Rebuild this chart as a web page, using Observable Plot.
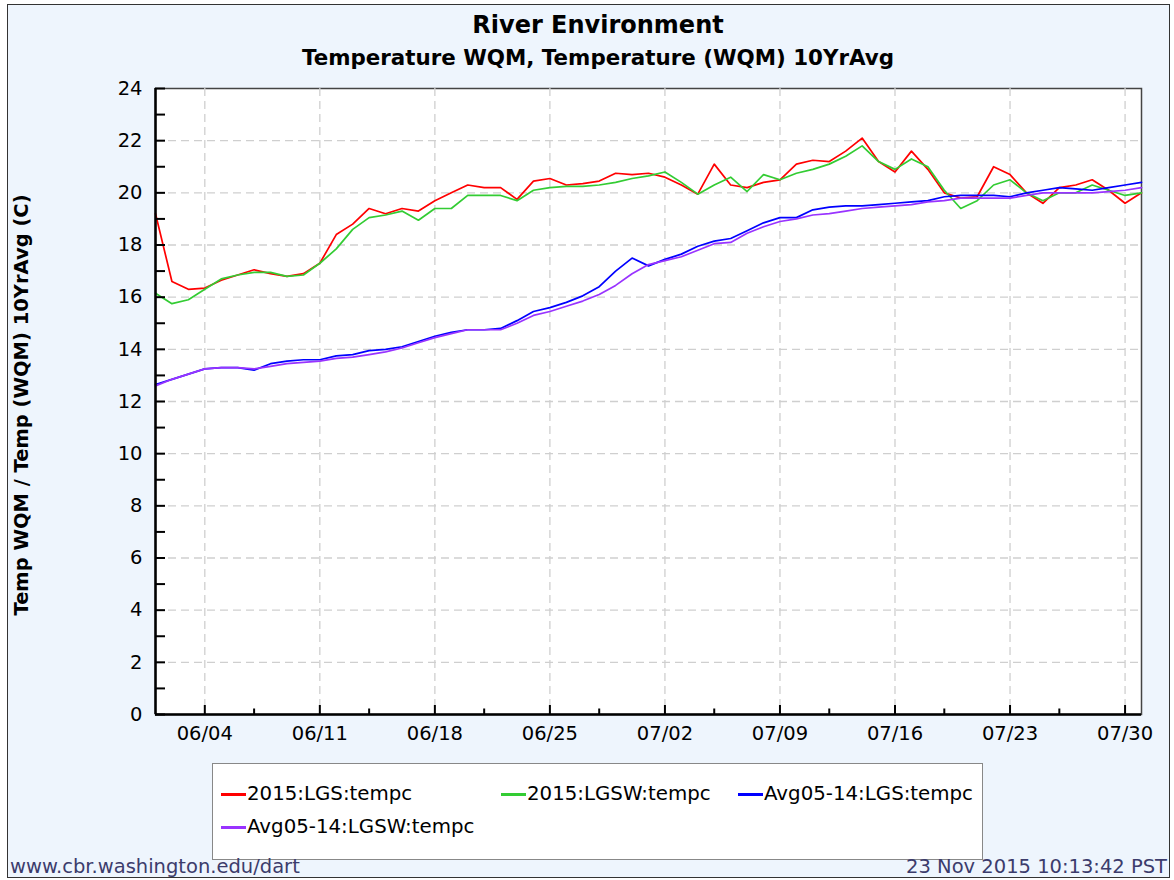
<!DOCTYPE html>
<html><head><meta charset="utf-8">
<script src="https://cdn.jsdelivr.net/npm/d3@7"></script>
<script src="https://cdn.jsdelivr.net/npm/@observablehq/plot@0.6"></script>
<style>
html,body{margin:0;padding:0;}
body{width:1174px;height:880px;overflow:hidden;background:#fff;font-family:"DejaVu Sans",sans-serif;position:relative;}
#page{position:absolute;left:7px;top:4px;width:1163px;height:874px;background:#EEF5FD;border:1px solid #333;box-sizing:border-box;}
.t{position:absolute;left:11px;width:1174px;text-align:center;font-weight:bold;line-height:1;color:#000;white-space:nowrap;}
#chart{position:absolute;left:0;top:0;}
#ylab{position:absolute;left:22px;top:405px;transform:translate(-50%,-50%) rotate(-90deg);font-weight:bold;font-size:19.5px;line-height:1;white-space:nowrap;}
#legend{position:absolute;left:212px;top:763px;width:771px;height:97px;background:#fff;border:1px solid #888;box-sizing:border-box;}
.li{position:absolute;font-size:19.8px;line-height:1;white-space:nowrap;}
.sw{position:absolute;width:25px;height:3px;}
.foot{position:absolute;font-size:19.5px;line-height:1;color:#3c3c6c;white-space:nowrap;}
</style>
</head><body>
<div id="page"></div>
<div id="chart"></div>
<div class="t" style="top:13px;font-size:24px;">River Environment</div>
<div class="t" style="top:47px;font-size:21.4px;">Temperature WQM, Temperature (WQM) 10YrAvg</div>
<div id="ylab">Temp WQM / Temp (WQM) 10YrAvg (C)</div>
<div id="legend"></div>
<div class="foot" style="left:10px;top:857px;">www.cbr.washington.edu/dart</div>
<div class="foot" style="right:7px;top:857px;">23 Nov 2015 10:13:42 PST</div>
<script>
const dates = ["2015-06-01","2015-06-02","2015-06-03","2015-06-04","2015-06-05","2015-06-06","2015-06-07","2015-06-08","2015-06-09","2015-06-10",
"2015-06-11","2015-06-12","2015-06-13","2015-06-14","2015-06-15","2015-06-16","2015-06-17","2015-06-18","2015-06-19","2015-06-20",
"2015-06-21","2015-06-22","2015-06-23","2015-06-24","2015-06-25","2015-06-26","2015-06-27","2015-06-28","2015-06-29","2015-06-30",
"2015-07-01","2015-07-02","2015-07-03","2015-07-04","2015-07-05","2015-07-06","2015-07-07","2015-07-08","2015-07-09","2015-07-10",
"2015-07-11","2015-07-12","2015-07-13","2015-07-14","2015-07-15","2015-07-16","2015-07-17","2015-07-18","2015-07-19","2015-07-20",
"2015-07-21","2015-07-22","2015-07-23","2015-07-24","2015-07-25","2015-07-26","2015-07-27","2015-07-28","2015-07-29","2015-07-30","2015-07-31"];

const lgs2015 = [19.2,16.6,16.3,16.35,16.65,16.85,17.05,16.9,16.8,16.9,17.3,18.4,18.8,19.4,19.2,19.4,19.3,19.7,20.0,20.3,20.2,20.2,19.75,20.45,20.55,20.3,20.35,20.45,20.75,20.7,20.75,20.6,20.3,19.95,21.1,20.3,20.2,20.4,20.5,21.1,21.25,21.2,21.6,22.1,21.2,20.8,21.6,20.9,20.0,19.8,19.85,21.0,20.7,20.0,19.6,20.2,20.3,20.5,20.1,19.6,20.0];
const lgsw2015 = [16.15,15.75,15.9,16.3,16.7,16.85,16.95,16.95,16.8,16.85,17.3,17.85,18.6,19.05,19.15,19.3,18.95,19.4,19.4,19.9,19.9,19.9,19.7,20.1,20.2,20.25,20.25,20.3,20.4,20.55,20.65,20.8,20.4,19.95,20.3,20.6,20.05,20.7,20.5,20.75,20.9,21.1,21.4,21.8,21.2,20.9,21.3,21.0,20.1,19.4,19.7,20.3,20.5,20.0,19.7,20.0,20.0,20.3,20.1,19.9,20.0];
const lgsAvg = [12.65,12.85,13.05,13.25,13.3,13.3,13.2,13.45,13.55,13.6,13.6,13.75,13.8,13.95,14.0,14.1,14.3,14.5,14.65,14.75,14.75,14.8,15.1,15.45,15.6,15.8,16.05,16.4,17.0,17.5,17.2,17.45,17.65,17.95,18.15,18.25,18.55,18.85,19.05,19.05,19.35,19.45,19.5,19.5,19.55,19.6,19.65,19.7,19.85,19.9,19.9,19.9,19.85,20.0,20.1,20.2,20.15,20.1,20.2,20.3,20.4];
const lgswAvg = [12.6,12.85,13.05,13.25,13.3,13.3,13.25,13.35,13.45,13.5,13.55,13.65,13.7,13.8,13.9,14.05,14.25,14.45,14.6,14.75,14.75,14.75,15.0,15.3,15.45,15.65,15.85,16.1,16.45,16.9,17.25,17.4,17.55,17.8,18.05,18.1,18.45,18.7,18.9,19.0,19.15,19.2,19.3,19.4,19.45,19.5,19.55,19.65,19.7,19.8,19.8,19.8,19.8,19.9,20.0,20.0,20.0,20.0,20.05,20.1,20.2];

const seriesNames = ["2015:LGS:tempc","2015:LGSW:tempc","Avg05-14:LGS:tempc","Avg05-14:LGSW:tempc"];
const seriesColors = ["#ff0000","#33cc33","#0000ff","#9933ff"];
const seriesValues = [lgs2015, lgsw2015, lgsAvg, lgswAvg];

const xDomain = ["2015-06-01","2015-07-31"];
const xMajorTicks = ["2015-06-04","2015-06-11","2015-06-18","2015-06-25","2015-07-02","2015-07-09","2015-07-16","2015-07-23","2015-07-30"];
const xMinorTicks = ["2015-06-07","2015-06-14","2015-06-21","2015-06-28","2015-07-05","2015-07-12","2015-07-19","2015-07-26"];
const yDomain = [0, 24];
const yLabelTicks = [0,2,4,6,8,10,12,14,16,18,20,22,24];
const yAllTicks = d3.range(0, 25, 1);

const toDate = s => new Date(s + "T00:00:00Z");
const table = [];
seriesNames.forEach((name, k) => {
  seriesValues[k].forEach((v, i) => table.push({series: name, date: toDate(dates[i]), value: v}));
});
const major = xMajorTicks.map(toDate);
const minor = xMinorTicks.map(toDate);

const gridStyle = {stroke: "#cfcfcf", strokeOpacity: 1, strokeWidth: 1.3, strokeDasharray: "8,5"};

const chart = Plot.plot({
  width: 1174,
  height: 760,
  marginLeft: 155,
  marginRight: 33,
  marginTop: 88,
  marginBottom: 46,
  style: {background: "transparent", fontFamily: "DejaVu Sans, sans-serif", fontSize: "19.5px", color: "#000"},
  x: {type: "utc", domain: xDomain.map(toDate), label: null},
  y: {domain: yDomain, label: null},
  color: {domain: seriesNames, range: seriesColors},
  marks: [
    Plot.frame({fill: "white", stroke: "#444", strokeWidth: 1.5}),
    Plot.gridY(yLabelTicks.filter(d => d > 0 && d < 24), gridStyle),
    Plot.gridX(major, gridStyle),
    Plot.line(table, {x: "date", y: "value", z: "series", stroke: "series", strokeWidth: 1.7}),
    Plot.axisY(yAllTicks, {tickSize: -10, fill: "none", stroke: "#000", strokeWidth: 2, label: null}),
    Plot.axisY(yLabelTicks, {tickSize: 0, tickPadding: 13, fontSize: 19.5, label: null}),
    Plot.axisX(major, {tickSize: -9, fill: "none", stroke: "#000", strokeWidth: 2, label: null}),
    Plot.axisX(minor, {tickSize: -5.5, fill: "none", stroke: "#000", strokeWidth: 2, label: null}),
    Plot.axisX(major, {tickSize: 0, tickPadding: 12, fontSize: 19.5, tickFormat: d3.utcFormat("%m/%d"), label: null}),
    Plot.ruleY([yDomain[0]], {stroke: "#000", strokeWidth: 2.5}),
    Plot.ruleX([toDate(xDomain[0])], {stroke: "#000", strokeWidth: 2.5})
  ]
});
document.getElementById("chart").appendChild(chart);

// legend
const legend = document.getElementById("legend");
const legendPos = [[8, 30], [288, 30], [525, 30], [8, 63]];
seriesNames.forEach((name, k) => {
  const [lx, ly] = legendPos[k];
  const sw = document.createElement("div");
  sw.className = "sw";
  sw.style.left = lx + "px";
  sw.style.top = (ly - 1.5) + "px";
  sw.style.background = seriesColors[k];
  legend.appendChild(sw);
  const t = document.createElement("div");
  t.className = "li";
  t.style.left = (lx + 26) + "px";
  t.style.top = (ly - 10) + "px";
  t.textContent = name;
  legend.appendChild(t);
});
</script>
</body></html>
